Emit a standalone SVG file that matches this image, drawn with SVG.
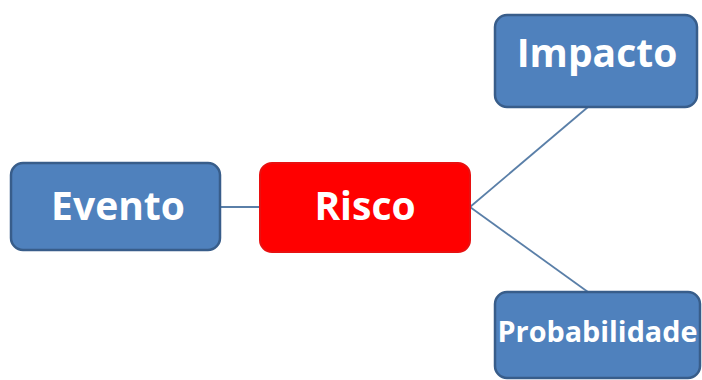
<svg xmlns="http://www.w3.org/2000/svg" width="702" height="380" viewBox="0 0 702 380">
<style>
.box{fill:#4F81BD;stroke:#385D8A;stroke-width:2.5}
.red{fill:#FF0000;stroke:#E81010;stroke-width:2}
.lbl{font-family:"Open Sans","Liberation Sans",sans-serif;font-weight:bold;fill:#FFFFFF;text-anchor:middle}
.con{stroke:#5A7FA8;stroke-width:1.8;fill:none}
</style>
<rect width="702" height="380" fill="#FFFFFF"/>
<g id="connectors">
<line class="con" x1="220" y1="207" x2="260" y2="207"/>
<line class="con" x1="470" y1="207" x2="588" y2="107"/>
<line class="con" x1="470" y1="207" x2="588" y2="292"/>
</g>
<g id="evento">
<rect class="box" x="11" y="163" width="209" height="87" rx="12"/>
<text class="lbl" x="118" y="220" font-size="39">Evento</text>
</g>
<g id="risco">
<rect class="red" x="260" y="163" width="210" height="89" rx="12"/>
<text class="lbl" x="365" y="220" font-size="39">Risco</text>
</g>
<g id="impacto">
<rect class="box" x="495" y="15" width="202" height="92" rx="12"/>
<text class="lbl" x="597" y="67" font-size="39">Impacto</text>
</g>
<g id="probabilidade">
<rect class="box" x="495" y="292" width="205" height="86" rx="12"/>
<text class="lbl" x="597.5" y="342" font-size="29" textLength="200" lengthAdjust="spacingAndGlyphs">Probabilidade</text>
</g>
</svg>
